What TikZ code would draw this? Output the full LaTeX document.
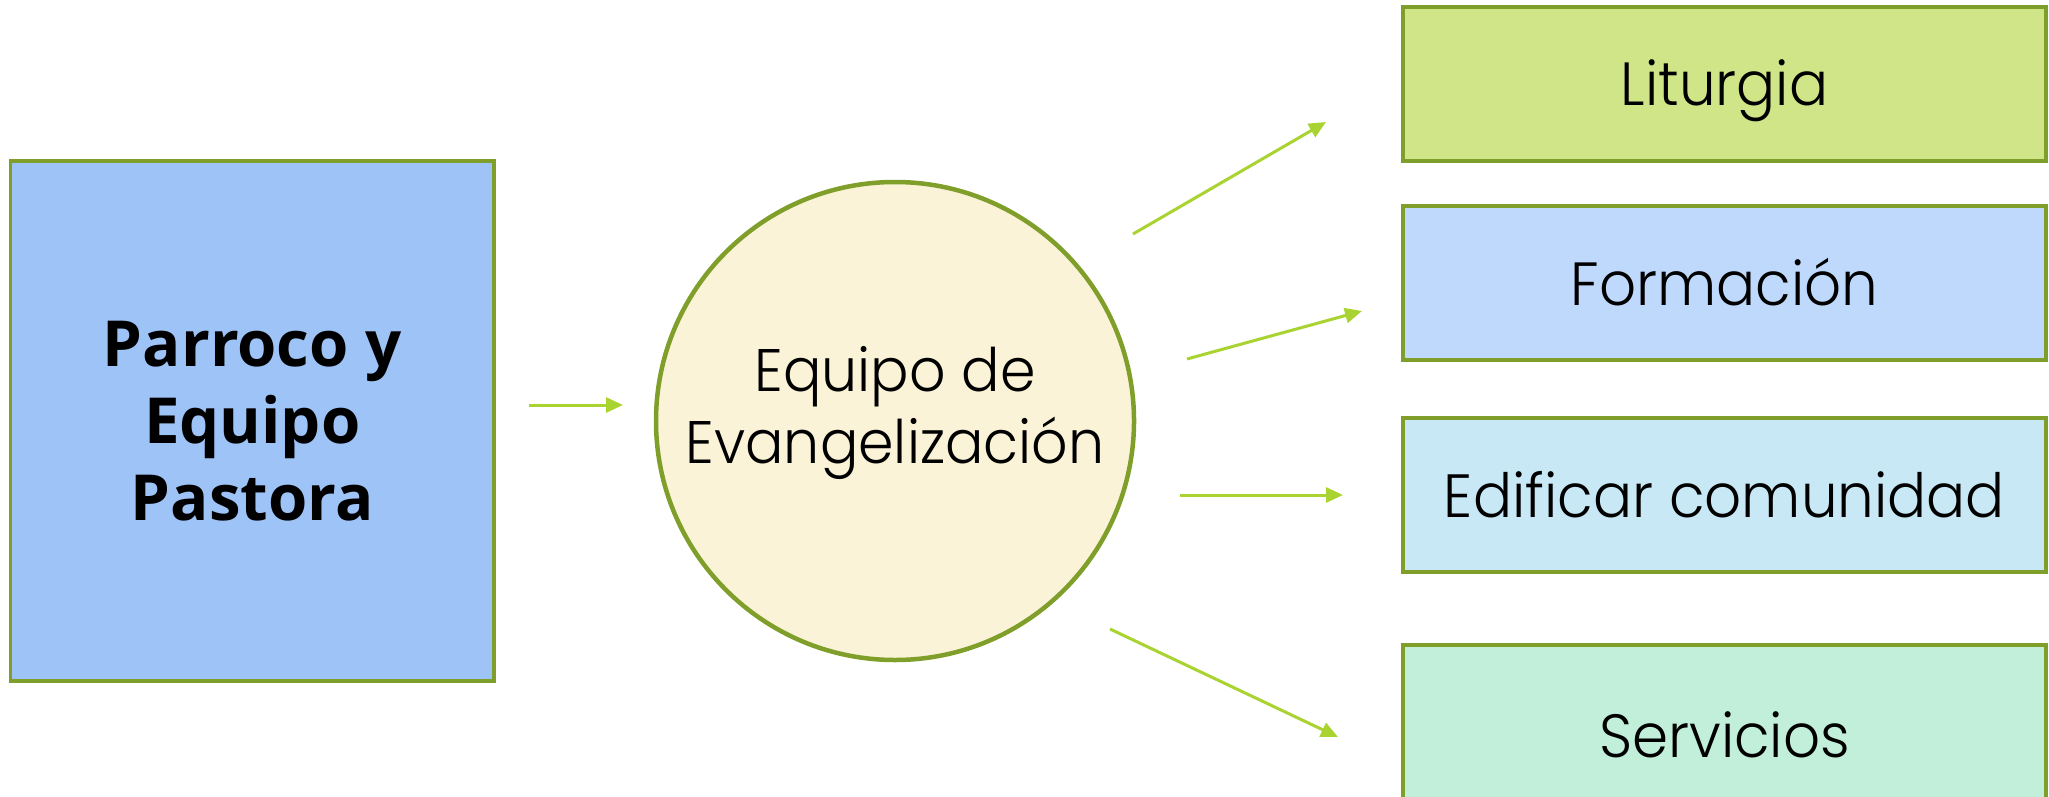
\documentclass[tikz,border=0pt]{standalone}
\usepackage{fontspec}
\setmainfont{Poppins Light}[FakeStretch=0.95]
\newfontfamily\boldfont{Open Sans Bold}
\usetikzlibrary{arrows.meta}
\definecolor{olive}{HTML}{7F9E2A}
\definecolor{arrowgreen}{HTML}{A9D331}
\definecolor{fillblue}{HTML}{9DC3F7}
\definecolor{fillcream}{HTML}{FAF3D7}
\definecolor{filllime}{HTML}{D0E587}
\definecolor{filllightblue}{HTML}{BFD9FC}
\definecolor{fillcyan}{HTML}{C8E8F5}
\definecolor{fillmint}{HTML}{C2EFDA}
\tikzset{
  box/.style={draw=olive, line width=3.5pt, rectangle, inner sep=0pt, align=center},
  rightbox/.style={box, minimum width=643pt, minimum height=154pt,
    font=\fontsize{61}{72}\selectfont, text height=44pt, text depth=0pt},
  flow/.style={draw=arrowgreen, line width=3pt, -{Triangle[length=17pt,width=15pt]}}
}
\begin{document}
\begin{tikzpicture}[x=1pt,y=-1pt]
\useasboundingbox (0,0) rectangle (2049,797);
\node[box, fill=fillblue, minimum width=483.5pt, minimum height=520pt,
      font=\boldfont\fontsize{63.5}{77}\selectfont] (parroco) at (252.25,421) {Parroco y\\Equipo\\Pastora};
\node[draw=olive, line width=4.5pt, circle, fill=fillcream, minimum size=478pt, inner sep=0pt] (equipo) at (895,421) {};
\node[align=center, font=\fontsize{60}{72}\selectfont, inner sep=0pt] (equipotext) at ([yshift=8pt]equipo.center) {Equipo de\\Evangelización};
\node[rightbox, fill=filllime] (liturgia) at (1724.5,84) {Liturgia};
\node[rightbox, fill=filllightblue] (formacion) at (1724.5,283) {Formación};
\node[rightbox, fill=fillcyan] (edificar) at (1724.5,495) {Edificar comunidad};
\node[rightbox, fill=fillmint, minimum height=180pt] (servicios) at (1724.5,735) {Servicios};
\coordinate (a1s) at (529,405);  \coordinate (a1e) at (623,405);
\coordinate (a2s) at (1133,234); \coordinate (a2e) at (1326,122);
\coordinate (a3s) at (1187,359); \coordinate (a3e) at (1362,311);
\coordinate (a4s) at (1180,495); \coordinate (a4e) at (1343,495);
\coordinate (a5s) at (1110,629); \coordinate (a5e) at (1338,737);
\draw[flow] (a1s) -- (a1e);
\draw[flow] (a2s) -- (a2e);
\draw[flow] (a3s) -- (a3e);
\draw[flow] (a4s) -- (a4e);
\draw[flow] (a5s) -- (a5e);
\end{tikzpicture}
\end{document}
